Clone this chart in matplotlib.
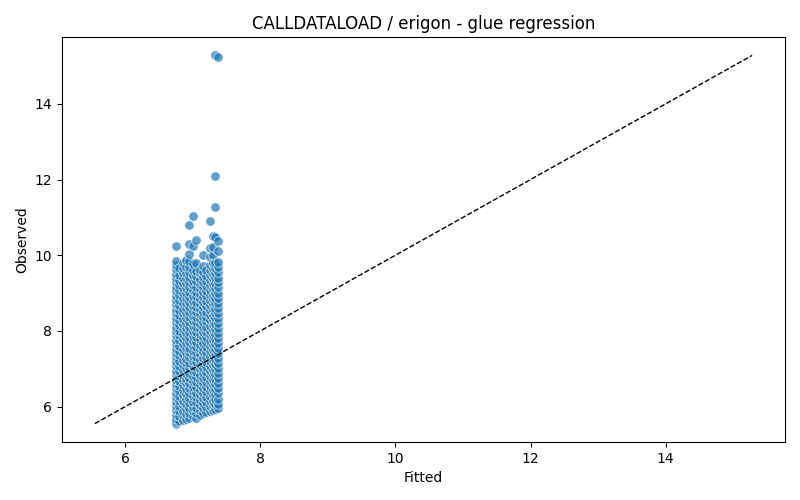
import matplotlib
matplotlib.use("Agg")
import matplotlib.pyplot as plt
import numpy as np

# Fitted levels (columns) and observed values in each column
fitted_levels = [6.755, 6.80, 6.85, 6.90, 6.95, 7.00, 7.05, 7.10, 7.15, 7.20, 7.25, 7.30, 7.33, 7.37]

obs_c01 = [5.55, 5.60, 5.68, 5.79, 5.90, 6.02, 6.13, 6.25, 6.36, 6.48, 6.60, 6.71, 6.83, 6.95, 7.06, 7.18, 7.30,
           7.41, 7.53, 7.65, 7.76, 7.88, 8.00, 8.11, 8.23, 8.35, 8.46, 8.58, 8.70, 8.81, 8.93, 9.05, 9.16, 9.28,
           9.40, 9.51, 9.63, 9.74, 9.86, 10.24]
obs_c02 = [5.62, 5.75, 5.88, 6.01, 6.15, 6.28, 6.41, 6.55, 6.68, 6.81, 6.95, 7.08, 7.21, 7.35, 7.48, 7.61, 7.75,
           7.88, 8.01, 8.15, 8.28, 8.41, 8.55, 8.68, 8.81, 8.95, 9.08, 9.21, 9.35, 9.48, 9.65]
obs_c03 = [5.64, 5.77, 5.89, 6.03, 6.16, 6.30, 6.43, 6.57, 6.70, 6.84, 6.97, 7.11, 7.24, 7.38, 7.51, 7.65, 7.78,
           7.92, 8.05, 8.19, 8.32, 8.46, 8.59, 8.73, 8.86, 9.00, 9.13, 9.27, 9.40, 9.54, 9.67, 9.80]
obs_c04 = [5.68, 5.81, 5.94, 6.07, 6.21, 6.34, 6.47, 6.61, 6.74, 6.87, 7.01, 7.14, 7.27, 7.41, 7.54, 7.67, 7.81,
           7.94, 8.07, 8.21, 8.34, 8.47, 8.61, 8.74, 8.87, 9.01, 9.14, 9.27, 9.41, 9.54, 9.70, 9.88]
obs_c05 = [5.70, 5.83, 5.96, 6.10, 6.23, 6.36, 6.50, 6.63, 6.76, 6.90, 7.03, 7.16, 7.30, 7.43, 7.56, 7.70, 7.83,
           7.96, 8.10, 8.23, 8.36, 8.50, 8.63, 8.76, 8.90, 9.03, 9.16, 9.30, 9.43, 9.56, 9.70, 9.85, 10.02, 10.30,
           10.80]
obs_c06 = [5.74, 5.87, 6.00, 6.13, 6.27, 6.40, 6.53, 6.67, 6.80, 6.93, 7.07, 7.20, 7.33, 7.47, 7.60, 7.73, 7.87,
           8.00, 8.13, 8.27, 8.40, 8.53, 8.67, 8.80, 8.93, 9.07, 9.20, 9.33, 9.47, 9.60, 9.78, 10.25, 11.03]
obs_c07 = [5.71, 5.84, 5.97, 6.11, 6.24, 6.37, 6.51, 6.64, 6.77, 6.91, 7.04, 7.17, 7.31, 7.44, 7.57, 7.71, 7.84,
           7.97, 8.11, 8.24, 8.37, 8.51, 8.64, 8.77, 8.91, 9.04, 9.17, 9.31, 9.44, 9.57, 9.80, 10.40]
obs_c08 = [5.78, 5.91, 6.04, 6.18, 6.31, 6.44, 6.58, 6.71, 6.84, 6.98, 7.11, 7.24, 7.38, 7.51, 7.64, 7.78, 7.91,
           8.04, 8.18, 8.31, 8.44, 8.58, 8.71, 8.84, 8.98, 9.11, 9.24, 9.38, 9.52, 9.62]
obs_c09 = [5.83, 5.96, 6.09, 6.23, 6.36, 6.49, 6.63, 6.76, 6.89, 7.03, 7.16, 7.29, 7.43, 7.56, 7.69, 7.83, 7.96,
           8.09, 8.23, 8.36, 8.49, 8.63, 8.76, 8.89, 9.03, 9.16, 9.29, 9.43, 9.56, 9.72, 10.00]
obs_c10 = [5.85, 5.98, 6.11, 6.25, 6.38, 6.51, 6.65, 6.78, 6.91, 7.05, 7.18, 7.31, 7.45, 7.58, 7.71, 7.85, 7.98,
           8.11, 8.25, 8.38, 8.51, 8.65, 8.78, 8.91, 9.05, 9.18, 9.31, 9.45, 9.60]
obs_c11 = [5.88, 6.01, 6.14, 6.28, 6.41, 6.54, 6.68, 6.81, 6.94, 7.08, 7.21, 7.34, 7.48, 7.61, 7.74, 7.88, 8.01,
           8.14, 8.28, 8.41, 8.54, 8.68, 8.81, 8.94, 9.08, 9.21, 9.34, 9.48, 9.61, 9.75, 9.95, 10.18, 10.90]
obs_c12 = [5.90, 6.03, 6.16, 6.30, 6.43, 6.56, 6.70, 6.83, 6.96, 7.10, 7.23, 7.36, 7.50, 7.63, 7.76, 7.90, 8.03,
           8.16, 8.30, 8.43, 8.56, 8.70, 8.83, 8.96, 9.10, 9.23, 9.36, 9.50, 9.63, 9.80, 10.00, 10.22, 10.52]
obs_c13 = [5.93, 6.06, 6.19, 6.33, 6.46, 6.59, 6.73, 6.86, 6.99, 7.13, 7.26, 7.39, 7.53, 7.66, 7.79, 7.93, 8.06,
           8.19, 8.33, 8.46, 8.59, 8.73, 8.86, 8.99, 9.13, 9.26, 9.39, 9.53, 9.66, 9.80, 10.48, 11.27, 12.09, 15.28]
obs_c14 = [5.95, 6.08, 6.21, 6.35, 6.48, 6.61, 6.75, 6.88, 7.01, 7.15, 7.28, 7.41, 7.55, 7.68, 7.81, 7.95, 8.08,
           8.21, 8.35, 8.48, 8.61, 8.75, 8.88, 9.01, 9.15, 9.28, 9.41, 9.55, 9.68, 9.82, 10.10, 10.38, 15.25]

columns = [obs_c01, obs_c02, obs_c03, obs_c04, obs_c05, obs_c06, obs_c07,
           obs_c08, obs_c09, obs_c10, obs_c11, obs_c12, obs_c13, obs_c14]

fitted = np.concatenate([[f] * len(c) for f, c in zip(fitted_levels, columns)])
observed = np.concatenate([np.array(c) for c in columns])

fig = plt.figure(figsize=(8, 5), dpi=100)
ax = fig.add_axes([0.0775, 0.116, 0.90375, 0.81])
ax.scatter(fitted, observed, s=46, color="#1f77b4", alpha=0.7, edgecolor="white", linewidth=0.6)
lo = min(fitted.min(), observed.min())
hi = max(fitted.max(), observed.max())
ax.plot([lo, hi], [lo, hi], color="black", linestyle="--", linewidth=1)
ax.set_xlabel("Fitted")
ax.set_ylabel("Observed")
ax.set_title("CALLDATALOAD / erigon - glue regression")
fig.savefig("out.png", dpi=100)
